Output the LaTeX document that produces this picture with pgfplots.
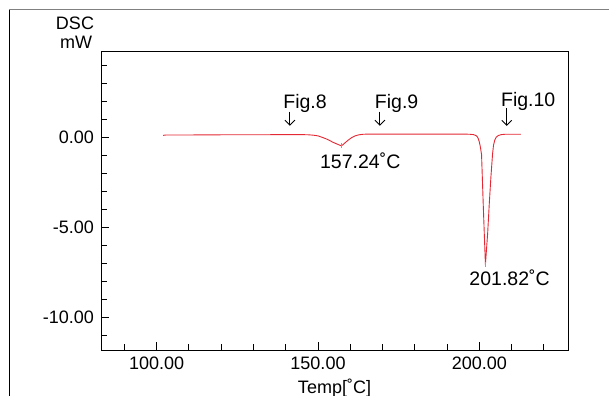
\documentclass[border=0pt]{standalone}
\usepackage{fontspec}
\setmainfont{Liberation Sans}
\usepackage{pgfplots}
\pgfplotsset{compat=1.18}
\usetikzlibrary{arrows.meta}
\definecolor{dscred}{RGB}{228,40,52}
\definecolor{peakcyan}{RGB}{80,180,230}
\begin{document}
\fontsize{18bp}{21bp}\selectfont
\begin{tikzpicture}
\useasboundingbox (0,0) rectangle (609bp,396bp);
\draw[black, line width=1bp] (9.5bp,0) -- (9.5bp,386.5bp);
\draw[gray, line width=1.3bp] (9bp,386.5bp) -- (609bp,386.5bp);
\begin{axis}[
  at={(101bp,46bp)}, anchor=south west,
  scale only axis, width=467bp, height=298bp,
  xmin=82.73, xmax=227.5, ymin=-11.79, ymax=4.73,
  xtick={100,150,200}, xticklabels={100.00,150.00,200.00},
  ytick={-10,-5,0}, yticklabels={-10.00,-5.00,0.00},
  minor xtick={90,110,120,130,140,160,170,180,190,210,220},
  minor ytick={-11,-9,-8,-7,-6,-4,-3,-2,-1,1,2,3,4},
  tick pos=left, tick align=inside,
  major tick length=8bp, minor tick length=5.5bp,
  tick style={black, line width=1bp},
  axis line style={black, line width=1bp},
  xticklabel style={inner sep=0pt, anchor=north, yshift=-6.5bp, font=\fontsize{18bp}{21bp}\selectfont},
  yticklabel style={inner sep=0pt, anchor=east, xshift=-7bp, font=\fontsize{18bp}{21bp}\selectfont},
  clip=false,
]
\addplot[dscred, line width=0.9bp] coordinates {
(102.0,0.11) (103,0.13) (110,0.13) (120,0.14) (130,0.14) (140,0.15) (145,0.15)
(147,0.14) (148.5,0.12) (150,0.08) (151.6,-0.02) (153,-0.12) (154.7,-0.28)
(156,-0.38) (156.8,-0.44) (157.24,-0.47) (157.8,-0.40) (158.6,-0.27) (159.4,-0.15)
(160.4,-0.02) (161.5,0.08) (162.7,0.14) (164,0.17) (166,0.18) (175,0.18) (185,0.18)
(195,0.18) (197,0.17) (198.2,0.15) (198.95,0.10) (199.4,0.03) (199.7,-0.08)
(200.0,-0.25) (200.3,-0.5) (200.7,-0.95) (201.2,-3.6) (201.6,-5.6) (201.9,-7.05)
(202.2,-6.3) (202.6,-5.3) (203.1,-3.67) (203.6,-2.2) (204.1,-0.95) (204.4,-0.45)
(204.8,-0.15) (205.3,0.02) (205.9,0.10) (206.8,0.15) (208,0.17) (212.9,0.17)
};
\addplot[only marks, mark=|, mark size=2.5bp, peakcyan, mark options={line width=0.8bp}] coordinates {(157.24,-0.47) (201.9,-7.05)};
\node[anchor=base west, inner sep=0pt, font=\fontsize{19.5bp}{22bp}\selectfont] at (axis cs:139.2,1.61) {Fig.8};
\node[anchor=base west, inner sep=0pt, font=\fontsize{19.5bp}{22bp}\selectfont] at (axis cs:167.6,1.61) {Fig.9};
\node[anchor=base west, inner sep=0pt, font=\fontsize{19.5bp}{22bp}\selectfont] at (axis cs:206.7,1.73) {Fig.10};
\draw[-{Straight Barb[length=5bp,width=10bp]}, line width=0.9bp] (axis cs:141.3,1.42) -- (axis cs:141.3,0.64);
\draw[-{Straight Barb[length=5bp,width=10bp]}, line width=0.9bp] (axis cs:169.2,1.42) -- (axis cs:169.2,0.64);
\draw[-{Straight Barb[length=5bp,width=10bp]}, line width=0.9bp] (axis cs:208.5,1.61) -- (axis cs:208.5,0.63);
\node[anchor=base west, inner sep=0pt, font=\fontsize{19.5bp}{22bp}\selectfont] at (axis cs:150.6,-1.72) {157.24˚C};
\node[anchor=base west, inner sep=0pt, font=\fontsize{19.5bp}{22bp}\selectfont] at (axis cs:196.9,-8.24) {201.82˚C};
\end{axis}
\node[anchor=base, inner sep=0pt] at (75bp,366bp) {DSC};
\node[anchor=base, inner sep=0pt] at (76bp,347.7bp) {mW};
\node[anchor=base, inner sep=0pt] at (334.5bp,2.7bp) {Temp[˚C]};
\end{tikzpicture}
\end{document}
